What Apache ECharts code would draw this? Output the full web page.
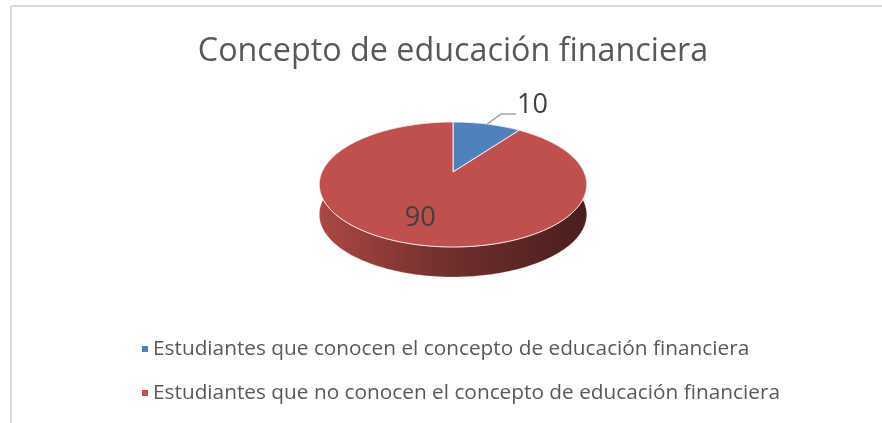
<!DOCTYPE html>
<html>
<head>
<meta charset="utf-8">
<script src="https://cdn.jsdelivr.net/npm/echarts@6/dist/echarts.min.js"></script>
<style>
  html, body { margin: 0; padding: 0; background: #fff; }
  #chart { width: 882px; height: 423px; }
</style>
</head>
<body>
<div id="chart"></div>
<script>
const categories = [
  "Estudiantes que conocen el concepto de educación financiera",
  "Estudiantes que no conocen el concepto de educación financiera",
];
const values = [10, 90];
const colors = ["#4f81bd", "#c0504d"];
const title = "Concepto de educación financiera";

const chart = echarts.init(document.getElementById("chart"));

// geometria del pastel 3d (centro, radios, perspectiva, grosor)
const cx = 453, cy = 172, rx = 131, ry = 60, tilt = 0.2, depth = 30;
const total = values.reduce((a, b) => a + b, 0);

// angulo en sentido horario desde arriba -> punto en pantalla
const proj = (ang, r, dy) => {
  const u = Math.sin(ang) * r, v = -Math.cos(ang) * r;
  const f = 1 / (1 - tilt * v);
  return [cx + rx * u * f, cy + ry * v * f + (dy || 0)];
};
const arc = (a0, a1, r, dy) => {
  const n = Math.max(2, Math.ceil((a1 - a0) / 0.02));
  const pts = [];
  for (let i = 0; i <= n; i++) pts.push(proj(a0 + ((a1 - a0) * i) / n, r, dy));
  return pts;
};
// oscurecer un color (k = factor de brillo)
const shade = (c, k) => {
  const p = echarts.color.parse(c);
  return "rgb(" + [0, 1, 2].map((i) => Math.round(p[i] * k)).join(",") + ")";
};
const labelFont = { fontFamily: "Open Sans", fontSize: 27, fill: "#404040" };

const renderSlice = (k) => (params, api) => {
  const before = values.slice(0, k).reduce((a, b) => a + b, 0);
  const val = api.value(0);
  const a0 = (before / total) * Math.PI * 2;
  const a1 = a0 + (val / total) * Math.PI * 2;
  const mid = (a0 + a1) / 2;
  const top = arc(a0, a1, 1, 0);
  const bottom = arc(a0, a1, 1, depth).reverse();
  const c = colors[k];
  const children = [
    // pared lateral
    {
      type: "polygon",
      z2: 0,
      shape: { points: top.concat(bottom) },
      style: {
        fill: {
          type: "linear", global: true,
          x: cx - rx * 1.03, y: 0, x2: cx + rx * 1.03, y2: 0,
          colorStops: [
            { offset: 0, color: shade(c, 0.9) },
            { offset: 0.45, color: shade(c, 0.6) },
            { offset: 1, color: shade(c, 0.38) },
          ],
        },
        stroke: "rgba(255,255,255,0.35)",
        lineWidth: 0.8,
      },
    },
    // cara superior
    {
      type: "polygon",
      z2: 10,
      shape: { points: [[cx, cy]].concat(top) },
      style: { fill: c, stroke: "rgba(255,255,255,0.85)", lineWidth: 1 },
    },
  ];
  if (val / total < 0.15) {
    const p0 = proj(mid, 1, 0);
    const p1 = [p0[0] + 14, p0[1] - 10];
    const p2 = [p1[0] + 15, p1[1]];
    children.push({
      type: "polyline", z2: 20,
      shape: { points: [p0, p1, p2] },
      style: { stroke: "#a6a6a6", lineWidth: 1.5, fill: null },
    });
    children.push({
      type: "text", z2: 20,
      style: Object.assign({ text: String(val), x: p2[0] + 1, y: p2[1] - 9, align: "left", verticalAlign: "middle" }, labelFont),
    });
  } else {
    const p = proj(mid, 0.7, 0);
    children.push({
      type: "text", z2: 20,
      style: Object.assign({ text: String(val), x: p[0], y: p[1], align: "center", verticalAlign: "middle" }, labelFont),
    });
  }
  return { type: "group", children };
};

chart.setOption({
  animation: false,
  title: {
    text: title,
    left: 453,
    top: 32,
    padding: 0,
    textAlign: "center",
    textStyle: { fontFamily: "Open Sans", fontSize: 32.3, fontWeight: "normal", color: "#595959", lineHeight: 40 },
  },
  legend: {
    data: categories,
    orient: "vertical",
    left: 137,
    top: 332,
    icon: "rect",
    itemWidth: 6,
    itemHeight: 6,
    itemGap: 20,
    selectedMode: false,
    textStyle: { fontFamily: "Open Sans", fontSize: 20.8, color: "#595959", lineHeight: 24 },
  },
  graphic: [
    { type: "line", shape: { x1: 11, y1: 6, x2: 882, y2: 6 }, style: { stroke: "#d9d9d9", lineWidth: 2 } },
    { type: "line", shape: { x1: 11, y1: 6, x2: 11, y2: 423 }, style: { stroke: "#d9d9d9", lineWidth: 2 } },
  ],
  series: categories.map((name, k) => ({
    type: "custom",
    name: name,
    coordinateSystem: "none",
    itemStyle: { color: colors[k] },
    data: [values[k]],
    renderItem: renderSlice(k),
  })),
});
</script>
</body>
</html>
